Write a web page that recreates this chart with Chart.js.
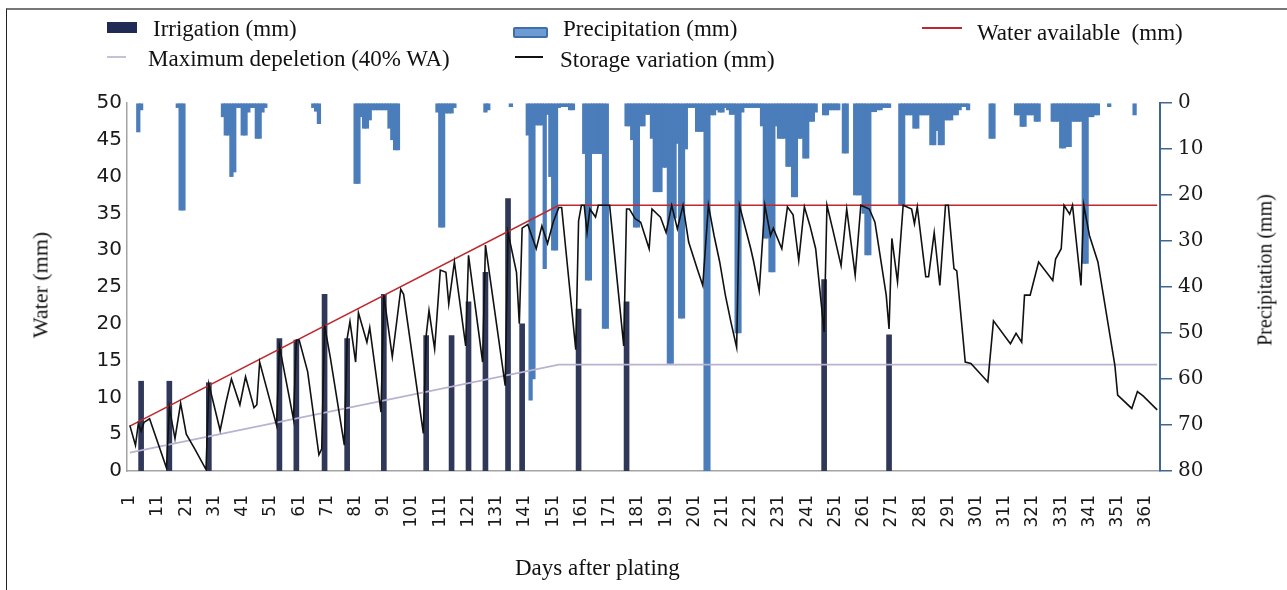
<!DOCTYPE html>
<html>
<head>
<meta charset="utf-8">
<script src="https://cdn.jsdelivr.net/npm/chart.js@4.4.1/dist/chart.umd.min.js"></script>
<style>
  html, body { margin: 0; padding: 0; background: #fff; }
  #wrap { position: relative; width: 1287px; height: 590px; overflow: hidden; }
  #frame { position: absolute; left: 6px; top: 8px; right: -2px; bottom: -2px;
           border-top: 2px solid #777; border-left: 1.5px solid #222; }
  canvas { position: absolute; left: 0; top: 0; }
  .txt { position: absolute; font-family: "Liberation Serif", "Times New Roman", serif;
         color: #111; white-space: nowrap; line-height: 23px; font-size: 23px; }
  .rot { transform: translate(-50%, -50%) rotate(-90deg); }
  .sw { position: absolute; }
</style>
</head>
<body>
<div id="wrap">
  <div id="frame"></div>
  <canvas id="chart" width="1287" height="590"></canvas>

  <div class="sw" style="left:107px;top:22px;width:30px;height:11px;background:#1f2b55;"></div>
  <div class="txt" style="left:153px;top:17px;">Irrigation (mm)</div>

  <div class="sw" style="left:107px;top:56px;width:19px;height:2px;background:#c6c1d6;"></div>
  <div class="txt" style="left:148px;top:47px;">Maximum depeletion (40% WA)</div>

  <div class="sw" style="left:513px;top:27px;width:31px;height:7px;background:#6d9bd3;border:2px solid #3f6ea8;border-radius:2px;"></div>
  <div class="txt" style="left:563px;top:17px;">Precipitation (mm)</div>

  <div class="sw" style="left:515px;top:56px;width:28px;height:2px;background:#111;"></div>
  <div class="txt" style="left:560px;top:48px;">Storage variation (mm)</div>

  <div class="sw" style="left:922px;top:27px;width:40px;height:2px;background:#b8282e;"></div>
  <div class="txt" style="left:977px;top:21px;">Water available&nbsp;&nbsp;(mm)</div>

  <div class="txt rot" style="left:40px;top:285px;font-size:22px;">Water (mm)</div>
  <div class="txt rot" style="left:1265px;top:270px;font-size:20px;">Precipitation (mm)</div>
  <div class="txt" style="left:515px;top:556px;">Days after plating</div>
</div>

<script>
  // ticks on the day axis
  const dayTicks = [1, 11, 21, 31, 41, 51, 61, 71, 81, 91, 101, 111, 121, 131, 141,
    151, 161, 171, 181, 191, 201, 211, 221, 231, 241, 251, 261, 271, 281, 291,
    301, 311, 321, 331, 341, 351, 361];

  // irrigation events (day, mm)
  const irrigationDays = [5, 15, 29, 54, 60, 70, 78, 91, 106, 115, 121, 127, 135, 140, 160, 177, 247, 270];
  const irrigationMm = [12.2, 12.2, 12, 18, 17.8, 24, 18, 24, 18.4, 18.4, 23, 27, 37, 20, 22, 23, 26, 18.5];

  // daily precipitation (day, mm), dry days left out
  const precipitation = [
    [4, 6.3], [5, 1.5], [18, 1], [19, 23.3], [20, 23.3],
    [34, 3], [35, 7], [36, 7], [37, 16], [38, 15], [39, 1], [40, 1], [41, 7], [42, 7], [43, 2],
    [44, 1], [45, 1], [46, 7.7], [47, 7.7], [48, 2], [49, 1],
    [66, 1], [67, 1.8], [68, 4.5],
    [81, 17.5], [82, 17.5], [83, 3], [84, 5.5], [85, 5.5], [86, 3.7], [87, 1.5], [88, 1.5],
    [89, 1.5], [90, 1.5], [91, 1.5], [92, 1.5], [93, 5.5], [94, 8], [95, 10.2], [96, 10.2],
    [110, 2], [111, 27], [112, 27], [113, 2.2], [114, 2.2], [115, 2.2], [116, 1],
    [127, 2], [128, 1.5], [136, 0.8],
    [142, 7], [143, 64.6], [144, 60], [145, 4.8], [146, 4.8], [147, 4.8], [148, 36], [149, 2.5],
    [150, 16], [151, 32], [152, 32], [153, 1], [154, 0.8], [155, 0.8], [156, 0.8], [157, 1.5], [158, 1.5],
    [162, 11], [163, 38.5], [164, 38.5], [165, 11], [166, 11], [167, 11], [168, 11], [169, 49], [170, 49],
    [177, 5], [178, 5], [179, 8], [180, 27], [181, 27], [182, 5], [183, 5], [184, 2.5], [185, 2.5],
    [186, 7.7], [187, 19.3], [188, 19.3], [189, 19.3], [190, 14], [191, 14], [192, 56.6], [193, 56.6],
    [194, 25], [195, 8.8], [196, 46.8], [197, 46.8], [198, 10], [199, 1], [200, 1], [201, 1],
    [202, 6.2], [203, 6.2], [204, 6.2], [205, 80], [206, 80],
    [207, 2.6], [208, 2.6], [209, 1.5], [210, 2], [211, 2], [212, 1], [213, 1.5], [214, 2.5], [215, 2.5],
    [216, 50], [217, 50], [218, 2], [219, 1], [220, 1], [221, 1], [222, 1], [223, 1], [224, 1],
    [225, 5], [226, 29.4], [227, 29.4], [228, 36.7], [229, 36.7], [230, 5], [231, 7.7], [232, 7.7],
    [233, 7.7], [234, 13.8], [235, 13.8], [236, 20.4], [237, 20.4], [238, 7.7], [239, 7.7], [240, 12],
    [241, 12], [242, 4], [243, 4], [244, 2],
    [247, 2.6], [248, 2.6], [249, 1.5], [250, 1.5], [251, 1.5], [252, 1.5], [254, 10.9], [255, 10.9],
    [258, 20], [259, 20], [260, 20], [261, 24], [262, 33], [263, 33], [264, 1.9], [265, 1.9],
    [266, 1.5], [267, 1.5], [268, 1], [269, 1], [270, 1],
    [274, 22.2], [275, 22.2], [276, 2.6], [277, 2.6], [278, 2.6], [279, 5.5], [280, 5.5], [281, 2.6],
    [282, 2.6], [283, 2.6], [284, 2.6], [285, 9.1], [286, 9.1], [287, 6], [288, 9.1], [289, 9.1],
    [290, 3.7], [291, 3.7], [292, 3.7], [293, 2.6], [294, 2.6], [295, 1.5], [296, 0.8], [297, 0.8], [298, 1.5],
    [306, 7.7], [307, 7.7],
    [315, 2.6], [316, 2.6], [317, 5.1], [318, 5.1], [319, 2.6], [320, 2.6], [321, 2.6], [322, 4], [323, 4],
    [328, 4], [329, 4], [330, 4], [331, 9.8], [332, 9.8], [333, 9.5], [334, 9.5], [335, 4], [336, 4],
    [337, 4], [338, 4], [339, 34.9], [340, 34.9], [341, 3], [342, 3], [343, 2.6], [344, 2.6],
    [348, 0.8], [357, 2.6]
  ];

  // soil water storage (day, mm)
  const storage = [
    [1, 6.2], [3, 3.5], [4, 6.4], [5, 5.4], [6, 6.6], [8, 7.1], [14, 0.4], [15, 8.6], [17, 4.4],
    [19, 9.2], [21, 5], [24, 3], [28, 0.2], [29, 11.8], [33, 5.5], [35, 9.2], [37, 12.5], [40, 9],
    [42, 12.8], [45, 8.6], [46, 9], [47, 14.8], [53, 6.2], [54, 17], [56, 13], [59, 7], [60, 17.8],
    [61, 17.8], [64, 13.5], [68, 2.2], [69, 3], [70, 19.8], [72, 15.5], [77, 3.5], [78, 18], [79, 20.3],
    [81, 14.8], [82, 21.5], [85, 17.5], [86, 19.5], [90, 8], [91, 23.9], [94, 15.5], [97, 24.7],
    [98, 24], [105, 5.1], [106, 18.4], [107, 21.8], [109, 16.6], [111, 27.3], [113, 27], [114, 22.7],
    [116, 28.4], [120, 17], [121, 29.3], [126, 14.8], [127, 30.7], [134, 11.6], [135, 32.4],
    [138, 27], [139, 20], [140, 33], [142, 33.5], [145, 30.2], [147, 33.3], [149, 30.9], [151, 33.8],
    [153, 35.8], [154, 35.8], [159, 16.5], [160, 34], [161, 36.1], [162, 36.1], [163, 32.4],
    [164, 35.6], [166, 34.5], [167, 36.1], [171, 36.1], [176, 17], [177, 35.6], [178, 35.6],
    [180, 34.3], [182, 33.8], [185, 30.2], [186, 35.6], [189, 34.5], [191, 32.4], [193, 36.1],
    [195, 32.9], [197, 36.1], [199, 31.1], [202, 27.5], [204, 25.2], [206, 36.1], [208, 32],
    [210, 28.4], [212, 23.9], [214, 20.2], [216, 16.8], [217, 36.1], [221, 30.2], [222, 28.5],
    [224, 24.5], [226, 36.1], [228, 32], [229, 33], [232, 30.2], [234, 35.9], [236, 34.8],
    [238, 28.6], [240, 35.9], [242, 33.3], [244, 30.2], [247, 18.9], [248, 36.1], [250, 32.9],
    [253, 27.9], [255, 35.6], [258, 26.6], [260, 36.1], [263, 35.6], [265, 33.8], [269, 23.9],
    [270, 19.3], [271, 31.6], [273, 25.7], [275, 36.1], [278, 35.6], [279, 33.6], [280, 35.9],
    [283, 26.4], [284, 26.4], [286, 32.4], [288, 25.2], [290, 36.1], [291, 36.1], [293, 27.5],
    [294, 27.2], [297, 14.8], [299, 14.6], [305, 12.1], [307, 20.4], [313, 17.3], [315, 18.7],
    [317, 17.5], [318, 23.9], [320, 23.9], [321, 25.4], [323, 28.4], [328, 25.9], [329, 28.8],
    [331, 30.2], [332, 36.1], [334, 34.9], [335, 36.1], [338, 25.2], [339, 36.1], [341, 32],
    [344, 28.4], [350, 14.4], [351, 10.3], [356, 8.5], [358, 10.8], [360, 10.2], [365, 8.3]
  ];

  // water available and 40% depletion limit, break points
  const limitDays = [1, 153, 365];
  const waterAvailable = [6.1, 36.1, 36.1];
  const maxDepletion = [2.5, 14.45, 14.45];

  const toPoints = (pairs) => pairs.map((p) => ({ x: p[0], y: p[1] }));

  const ctx = document.getElementById("chart").getContext("2d");

  new Chart(ctx, {
    data: {
      datasets: [
        {
          type: "line",
          label: "Storage variation (mm)",
          data: toPoints(storage),
          borderColor: "#111",
          borderWidth: 1.6,
          pointRadius: 0,
          tension: 0,
          yAxisID: "y",
          order: 0,
        },
        {
          type: "line",
          label: "Water available (mm)",
          data: limitDays.map((d, i) => ({ x: d, y: waterAvailable[i] })),
          borderColor: "#c0282d",
          borderWidth: 1.6,
          pointRadius: 0,
          yAxisID: "y",
          order: 1,
        },
        {
          type: "line",
          label: "Maximum depeletion (40% WA)",
          data: limitDays.map((d, i) => ({ x: d, y: maxDepletion[i] })),
          borderColor: "#b9b2d2",
          borderWidth: 1.6,
          pointRadius: 0,
          yAxisID: "y",
          order: 2,
        },
        {
          type: "bar",
          label: "Irrigation (mm)",
          data: irrigationDays.map((d, i) => ({ x: d, y: irrigationMm[i] })),
          backgroundColor: "#2f3858",
          barThickness: 5,
          grouped: false,
          yAxisID: "y",
          order: 3,
        },
        {
          type: "bar",
          label: "Precipitation (mm)",
          data: toPoints(precipitation),
          backgroundColor: "#4a7dba",
          barThickness: 3.6,
          grouped: false,
          yAxisID: "y2",
          order: 4,
        },
      ],
    },
    options: {
      responsive: false,
      animation: false,
      layout: { padding: { top: 103, left: 0, right: 0, bottom: 0 } },
      plugins: { legend: { display: false }, tooltip: { enabled: false } },
      scales: {
        x: {
          type: "linear",
          offset: false,
          min: 0,
          max: 366,
          afterBuildTicks: (s) => {
            s.ticks = dayTicks.map((v) => ({ value: v }));
          },
          afterFit: (s) => {
            s.height = 119;
          },
          grid: { display: false, drawTicks: false, offset: false },
          border: { display: true, color: "#a3a3a3", width: 1.5 },
          ticks: {
            autoSkip: false,
            minRotation: 90,
            maxRotation: 90,
            padding: 24,
            color: "#1a1a1a",
            font: { family: "DejaVu Sans", size: 17 },
          },
        },
        y: {
          position: "left",
          min: 0,
          max: 50,
          afterFit: (s) => {
            s.width = 127;
          },
          grid: { display: false, drawTicks: false },
          border: { display: true, color: "#a3a3a3", width: 1.5 },
          ticks: {
            stepSize: 5,
            padding: 5,
            color: "#1a1a1a",
            font: { family: "DejaVu Sans", size: 20 },
          },
        },
        y2: {
          position: "right",
          reverse: true,
          min: 0,
          max: 80,
          afterFit: (s) => {
            s.width = 127;
          },
          grid: {
            display: true,
            drawOnChartArea: false,
            drawTicks: true,
            tickLength: 12,
            color: "#3f6690",
            lineWidth: 1.5,
          },
          border: { display: true, color: "#3f6690", width: 2 },
          ticks: {
            stepSize: 10,
            padding: 6,
            color: "#1a1a1a",
            font: { family: "DejaVu Serif", size: 20 },
          },
        },
      },
    },
  });
</script>
</body>
</html>
